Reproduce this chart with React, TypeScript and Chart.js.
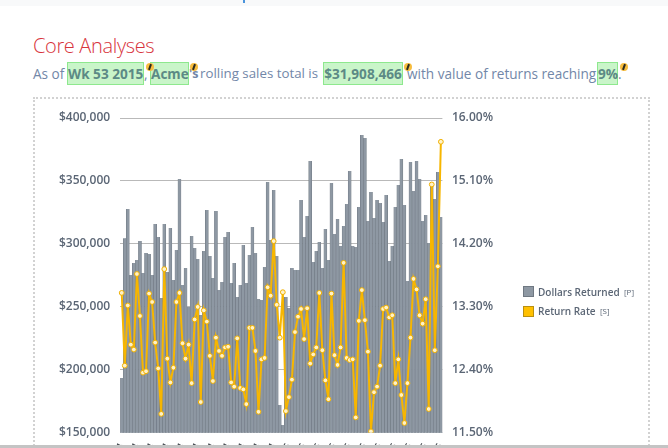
import React, { useEffect, useRef } from "react";
import { Chart, registerables } from "chart.js";

Chart.register(...registerables);

const tickYears = [2014, 2015];
const weeksInYear = [52, 54];
const categories: string[] = [];
tickYears.forEach((y, k) => {
  for (let w = 1; w <= weeksInYear[k]; w++) categories.push(`Wk ${w} ${y}`);
});

const dollarsReturned = [
  193600, 304500, 327700, 275300, 284900, 287300, 302300, 276900, 292800, 292000,
  275300, 315800, 305500, 257100, 315800, 277700, 312700, 271400, 295200, 351600,
  267400, 280900, 249900, 306300, 296800, 288000, 243600, 294400, 327000, 290400,
  273000, 326200, 263400, 269800, 305500, 309500, 269000, 284900, 257900, 267400,
  299200, 269000, 291200, 313500, 292800, 256300, 255500, 281700, 349200, 303100,
  342800, 290400, 172100, 156200, 257900, 249100, 280900, 279300, 279300, 334900,
  305500, 322200, 365900, 285700, 294400, 301500, 280900, 311900, 287300, 348400,
  307900, 319800, 298400, 314200, 331700, 357900, 298400, 297600, 329300, 386500,
  384100, 318200, 341200, 320600, 334900, 332500, 317400, 338900, 286500, 298400,
  329300, 346800, 367400, 330900, 270600, 365100, 342000, 365900, 351600, 318200,
  323000, 300800, 347600, 335700, 357100, 321400,
];

const returnRate = [
  13.5, 12.46, 13.32, 12.76, 12.69, 13.77, 13.17, 12.36, 12.38, 13.49,
  13.37, 12.79, 12.42, 11.77, 13.84, 12.56, 12.22, 12.43, 13.37, 13.5,
  12.78, 12.56, 12.76, 12.21, 13.12, 13.3, 11.94, 13.25, 13.09, 12.6,
  12.24, 12.86, 12.67, 12.6, 12.72, 12.73, 12.22, 12.16, 12.85, 12.14,
  12.12, 11.91, 13.0, 13.0, 12.67, 11.8, 12.55, 12.57, 13.58, 13.46,
  14.24, 13.33, 12.86, 13.51, 11.81, 12.01, 12.26, 12.94, 13.16, 13.27,
  12.84, 13.28, 12.49, 12.62, 12.72, 13.5, 12.68, 12.25, 11.98, 13.49,
  12.61, 12.47, 12.72, 13.93, 12.57, 12.54, 12.55, 11.72, 13.1, 13.54,
  13.11, 12.66, 11.52, 12.08, 12.16, 12.46, 13.27, 13.29, 13.15, 13.18,
  12.21, 12.55, 12.04, 11.64, 12.21, 12.86, 13.7, 13.55, 13.18, 13.06,
  13.41, 11.84, 15.05, 12.68, 13.88, 15.66,
];

const seriesNames = ["Dollars Returned", "Return Rate"];
const seriesTags = ["[P]", "[S]"];

const GREY = "#8e98a3";
const GOLD = "#f7b600";
const TICK = "#5b6675";
const SLATE = "#7287a8";
const GREEN_TEXT = "#5c8a85";

const abs = (s: React.CSSProperties): React.CSSProperties => ({ position: "absolute", whiteSpace: "nowrap", ...s });

function Plain({ x, text, bold, size = 13.6 }: { x: number; text: string; bold?: boolean; size?: number }) {
  return (
    <div style={abs({ left: x, top: 63, lineHeight: "21px", fontSize: size, color: SLATE, fontWeight: bold ? 700 : 400 })}>{text}</div>
  );
}

function Box({ x, w, text }: { x: number; w: number; text: string }) {
  return (
    <div
      style={abs({
        left: x, top: 62, width: w, height: 23, boxSizing: "border-box",
        background: "#c9f5c9", border: "1px solid #8ee88e", color: GREEN_TEXT,
        fontWeight: 700, fontSize: 13.6, lineHeight: "21px", textAlign: "center",
      })}
    >
      {text}
    </div>
  );
}

function Badge({ x }: { x: number }) {
  return (
    <div style={abs({ left: x - 4, top: 63, width: 8, height: 8, borderRadius: 4, background: "#f7bd3f" })}>
      <div style={abs({ left: 3, top: 1, width: 2, height: 6, background: "#2b2b20", transform: "rotate(20deg)" })} />
    </div>
  );
}

export default function App() {
  const ref = useRef<HTMLCanvasElement>(null);

  useEffect(() => {
    if (!ref.current) return;
    const font = { family: "'Open Sans'", size: 12, weight: 600 as const };
    const chart = new Chart(ref.current, {
      type: "bar",
      data: {
        labels: categories,
        datasets: [
          {
            type: "line",
            label: seriesNames[1],
            data: returnRate,
            yAxisID: "y1",
            order: 0,
            borderColor: GOLD,
            borderWidth: 2,
            tension: 0,
            pointRadius: 2.4,
            pointBackgroundColor: "#fff2c8",
            pointBorderColor: "#f0b000",
            pointBorderWidth: 1,
          },
          {
            type: "bar",
            label: seriesNames[0],
            data: dollarsReturned,
            yAxisID: "y",
            order: 1,
            backgroundColor: GREY,
            borderColor: "#727b85",
            borderWidth: { left: 0.6, right: 0.6, top: 0, bottom: 0 },
            barPercentage: 1,
            categoryPercentage: 1,
          },
        ],
      } as any,
      options: {
        animation: false,
        responsive: false,
        layout: { padding: { left: 0, right: 0, top: 118, bottom: 0 } },
        plugins: { legend: { display: false }, title: { display: false }, tooltip: { enabled: false } },
        scales: {
          x: {
            grid: { display: false, drawTicks: false },
            border: { display: true, color: "#e2e4e6" },
            ticks: {
              autoSkip: false,
              maxRotation: 60,
              minRotation: 60,
              padding: 8.5,
              color: "#4a4f55",
              font: { family: "'Open Sans'", size: 10, weight: 600 },
              callback: (_v: any, i: number) => (i % 5 === 0 ? categories[i] : ""),
            },
            afterFit: (s: any) => { s.height = 13.7; },
          },
          y: {
            position: "left",
            min: 150000,
            max: 400000,
            grid: { color: "#b9b9b9", lineWidth: 1, drawTicks: false },
            border: { display: false },
            ticks: {
              stepSize: 50000,
              padding: 10,
              color: TICK,
              font,
              callback: (v: any) => "$" + Number(v).toLocaleString("en-US"),
            },
            afterFit: (s: any) => { s.width = 120.2; },
          },
          y1: {
            position: "right",
            min: 11.5,
            max: 16,
            grid: { display: false, drawTicks: false },
            border: { display: false },
            ticks: {
              stepSize: 0.9,
              padding: 9.5,
              color: TICK,
              font,
              callback: (v: any) => Number(v).toFixed(2) + "%",
            },
            afterFit: (s: any) => { s.width = 225.6; },
          },
        },
      },
    } as any);
    return () => chart.destroy();
  }, []);

  return (
    <div
      style={{
        position: "fixed", left: 0, top: 0, width: 668, height: 448, overflow: "hidden",
        background: "#fff", fontFamily: "'Open Sans', sans-serif", filter: "blur(0.35px)",
      }}
    >
      <div style={abs({ left: 0, top: 0, width: 668, height: 6, background: "#f8f9fa" })} />
      <div style={abs({ left: 243, top: 0, width: 2, height: 3, background: "#4a94dc" })} />
      <div style={abs({ left: 33, top: 32, fontSize: 20, fontWeight: 300, letterSpacing: -0.35, lineHeight: "28px", color: "#d8343c" })}>Core Analyses</div>

      <Plain x={33} text="As of" />
      <Box x={67} w={77} text="Wk 53 2015" />
      <Plain x={144} text="," />
      <Box x={150} w={39} text="Acme" />
      <Plain x={189} text="'s" bold size={12.5} />
      <Plain x={200} text="rolling sales total is" size={13.3} />
      <Box x={323} w={80} text="$31,908,466" />
      <Plain x={407} text="with value of returns reaching" size={13.6} />
      <Box x={597} w={21} text="9%" />
      <Plain x={618} text="." />
      <Badge x={150} />
      <Badge x={194} />
      <Badge x={408} />
      <Badge x={624} />

      <div style={abs({ left: 33, top: 97, width: 617, height: 360, boxSizing: "border-box", border: "2px dotted #d2d2d2" })} />

      <canvas ref={ref} width={668} height={450} style={{ position: "absolute", left: 0, top: 0, width: 668, height: 450 }} />

      <div style={abs({ left: 523, top: 286, width: 11, height: 11, boxSizing: "border-box", background: GREY, border: "1px solid #6f7882" })} />
      <div style={abs({ left: 538, top: 285, fontSize: 10, fontWeight: 600, lineHeight: "14px", color: TICK })}>{seriesNames[0]}</div>
      <div style={abs({ left: 624, top: 285, fontSize: 8, lineHeight: "14px", color: TICK })}>{seriesTags[0]}</div>
      <div style={abs({ left: 523, top: 306, width: 11, height: 11, boxSizing: "border-box", background: "#ffc000", border: "1px solid #b98f10" })} />
      <div style={abs({ left: 538, top: 304, fontSize: 10, fontWeight: 600, lineHeight: "14px", color: TICK })}>{seriesNames[1]}</div>
      <div style={abs({ left: 600, top: 304, fontSize: 8, lineHeight: "14px", color: TICK })}>{seriesTags[1]}</div>

      <div style={abs({ left: 0, top: 445, width: 668, height: 3, background: "#c4c4c4" })} />
    </div>
  );
}
